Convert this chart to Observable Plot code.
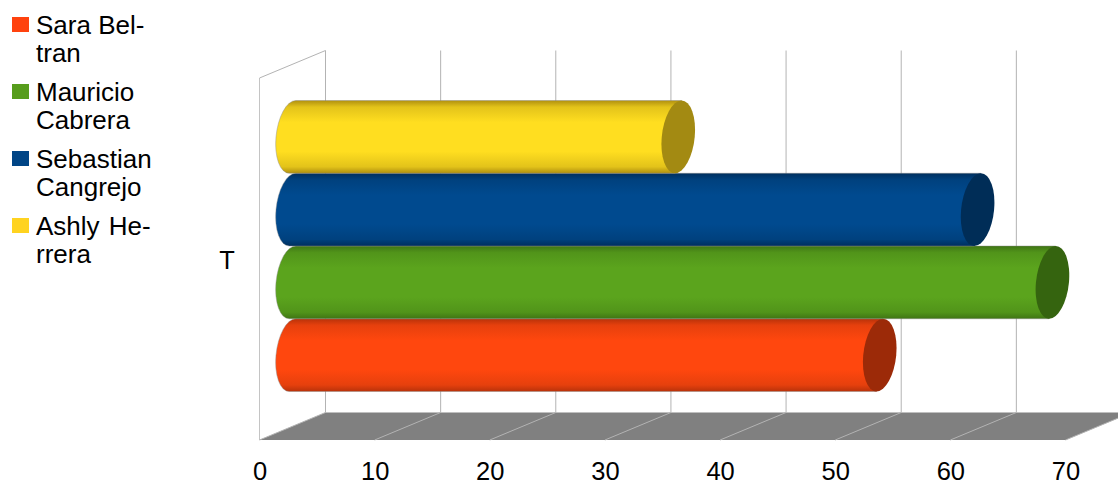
<!DOCTYPE html>
<html>
<head>
<meta charset="utf-8">
<script src="https://cdn.jsdelivr.net/npm/d3@7"></script>
<script src="https://cdn.jsdelivr.net/npm/@observablehq/plot@0.6"></script>
<style>
  html, body { margin: 0; padding: 0; background: #fff; }
  #chart { position: relative; width: 1118px; height: 482px; overflow: hidden; font-family: "Liberation Sans", sans-serif; }
  #chart svg { display: block; }
  .key { position: absolute; left: 0; top: 0; }
  .key .row { position: absolute; left: 12px; white-space: nowrap; color: #000; font-size: 26px; line-height: 28px; }
  .key .swatch { position: absolute; left: 0; top: 5px; width: 17px; height: 15px; }
  .key .label { position: absolute; left: 24px; top: -1px; }
</style>
</head>
<body>
<div id="chart"></div>
<script>
// Series, listed from the bottom cylinder to the top one
const seriesNames = ["Sara Beltran", "Mauricio Cabrera", "Sebastian Cangrejo", "Ashly Herrera"];
const seriesValues = [51, 66, 59.5, 33.5];
const seriesColors = ["#ff420e", "#579d1c", "#004586", "#ffd320"];
const bodyColors = ["#ff470e", "#5ba41d", "#004a8f", "#ffde20"];
const shadeColors = ["#b8320a", "#3f7514", "#002f5e", "#b0900f"];
const capColors = ["#9c2a08", "#35640f", "#002d57", "#a38a12"];
const legendLines = [["Sara Bel-", "tran"], ["Mauricio", "Cabrera"], ["Sebastian", "Cangrejo"], ["Ashly He-", "rrera"]];
const xTicks = [0, 10, 20, 30, 40, 50, 60, 70];
const categoryLabel = "T";

const rows = seriesNames.map((name, i) => ({
  name, value: seriesValues[i], color: bodyColors[i], shade: shadeColors[i], cap: capColors[i]
}));

// Oblique projection of the box: how far the back wall sits from the front edge
const depthX = 66;
const depthY = 27.5;
const floorY = 440;
const wallTopY = 78;
const gridColor = "#b3b3b3";
const shearDegrees = 5.2;

// Walls, floor and gridlines, placed along the x scale
function frame(index, {x}) {
  const g = d3.create("svg:g").attr("fill", "none");
  const x0 = x(0), x1 = x(70);
  g.append("path")
    .attr("fill", "#808080")
    .attr("d", `M${x0},${floorY}L${x1},${floorY}L${x1 + depthX},${floorY - depthY}L${x0 + depthX},${floorY - depthY}Z`);
  g.append("path")
    .attr("stroke", "#c4c4c4")
    .attr("d", `M${x0},${floorY}L${x0},${wallTopY}`);
  g.append("path")
    .attr("stroke", gridColor)
    .attr("d", `M${x0},${wallTopY}L${x0 + depthX},${wallTopY - depthY}`);
  for (const t of xTicks) {
    const px = x(t);
    g.append("path")
      .attr("stroke", gridColor)
      .attr("d", `M${px},${floorY}L${px + depthX},${floorY - depthY}L${px + depthX},${wallTopY - depthY}`);
  }
  return g.node();
}

// Vertical shading used to round each cylinder: dark rims easing into the body colour
function shading() {
  const defs = d3.create("svg:defs");
  rows.forEach((r, i) => {
    const mid = d3.interpolateRgb(r.shade, r.color)(0.65);
    const grad = defs.append("linearGradient")
      .attr("id", `tube-${i}`).attr("x1", 0).attr("x2", 0).attr("y1", 0).attr("y2", 1);
    [[0, r.shade], [0.09, mid], [0.3, r.color], [0.7, r.color], [0.91, mid], [1, r.shade]].forEach(([offset, color]) =>
      grad.append("stop").attr("offset", offset).attr("stop-color", color));
  });
  return defs.node();
}

// Draws each bar as a slightly sheared cylinder running at mid depth
function cylinders(index, {x, y}) {
  const g = d3.create("svg:g");
  const names = y.domain();
  const ry = (y(names[1]) - y(names[0])) / 2;
  const rx = 16.5;
  for (const i of index) {
    const r = rows[i];
    const cy = y(r.name) + ry;
    const start = x(0) + depthX / 2;
    const end = x(r.value) + depthX / 2;
    // skewX pivots around the group's own y = 0, so each tube stays centred on cy
    const tube = g.append("g").attr("transform", `translate(0,${cy}) skewX(${-shearDegrees})`);
    tube.append("path")
      .attr("fill", `url(#tube-${i})`)
      .attr("stroke", "#8a8a8a")
      .attr("stroke-width", 0.6)
      .attr("stroke-opacity", 0.7)
      .attr("d", `M${end},${-ry}L${start},${-ry}A${rx},${ry} 0 0 0 ${start},${ry}L${end},${ry}Z`);
    tube.append("ellipse")
      .attr("cx", end).attr("cy", 0).attr("rx", rx).attr("ry", ry)
      .attr("fill", r.cap);
  }
  return g.node();
}

const plot = Plot.plot({
  width: 1118,
  height: 482,
  marginTop: 0,
  marginRight: 0,
  marginLeft: 0,
  marginBottom: 32,
  style: {fontFamily: "'Liberation Sans', sans-serif", background: "#fff", overflow: "hidden"},
  x: {domain: [0, 70], range: [259.5, 1065.5], axis: null},
  y: {type: "band", domain: seriesNames.slice().reverse(), range: [100.5, 391.5], padding: 0, round: false, axis: null},
  marks: [
    shading,
    frame,
    Plot.barX(rows, {x: "value", y: "name", fill: "color", render: cylinders}),
    Plot.axisX({
      ticks: xTicks, tickFormat: d => String(d), tickSize: 0, tickPadding: 11,
      fontSize: 25.5, fill: "#000", color: "#000", anchor: "bottom", label: null
    }),
    Plot.text([categoryLabel], {
      text: d => d, frameAnchor: "top-left", dx: 226.5, dy: 260,
      fontSize: 25.5, fill: "#000", textAnchor: "middle", lineAnchor: "middle"
    })
  ]
});

const chart = document.getElementById("chart");
chart.append(plot);

// Legend sits to the left of the plot, each entry wrapped over two lines
const key = d3.select(chart).append("div").attr("class", "key");
[12, 79, 146, 213].forEach((top, i) => {
  const row = key.append("div").attr("class", "row").style("top", `${top}px`);
  row.append("div").attr("class", "swatch").style("background", seriesColors[i]);
  row.append("div").attr("class", "label").style("word-spacing", i === 3 ? "2px" : null).html(legendLines[i].join("<br>"));
});
</script>
</body>
</html>
